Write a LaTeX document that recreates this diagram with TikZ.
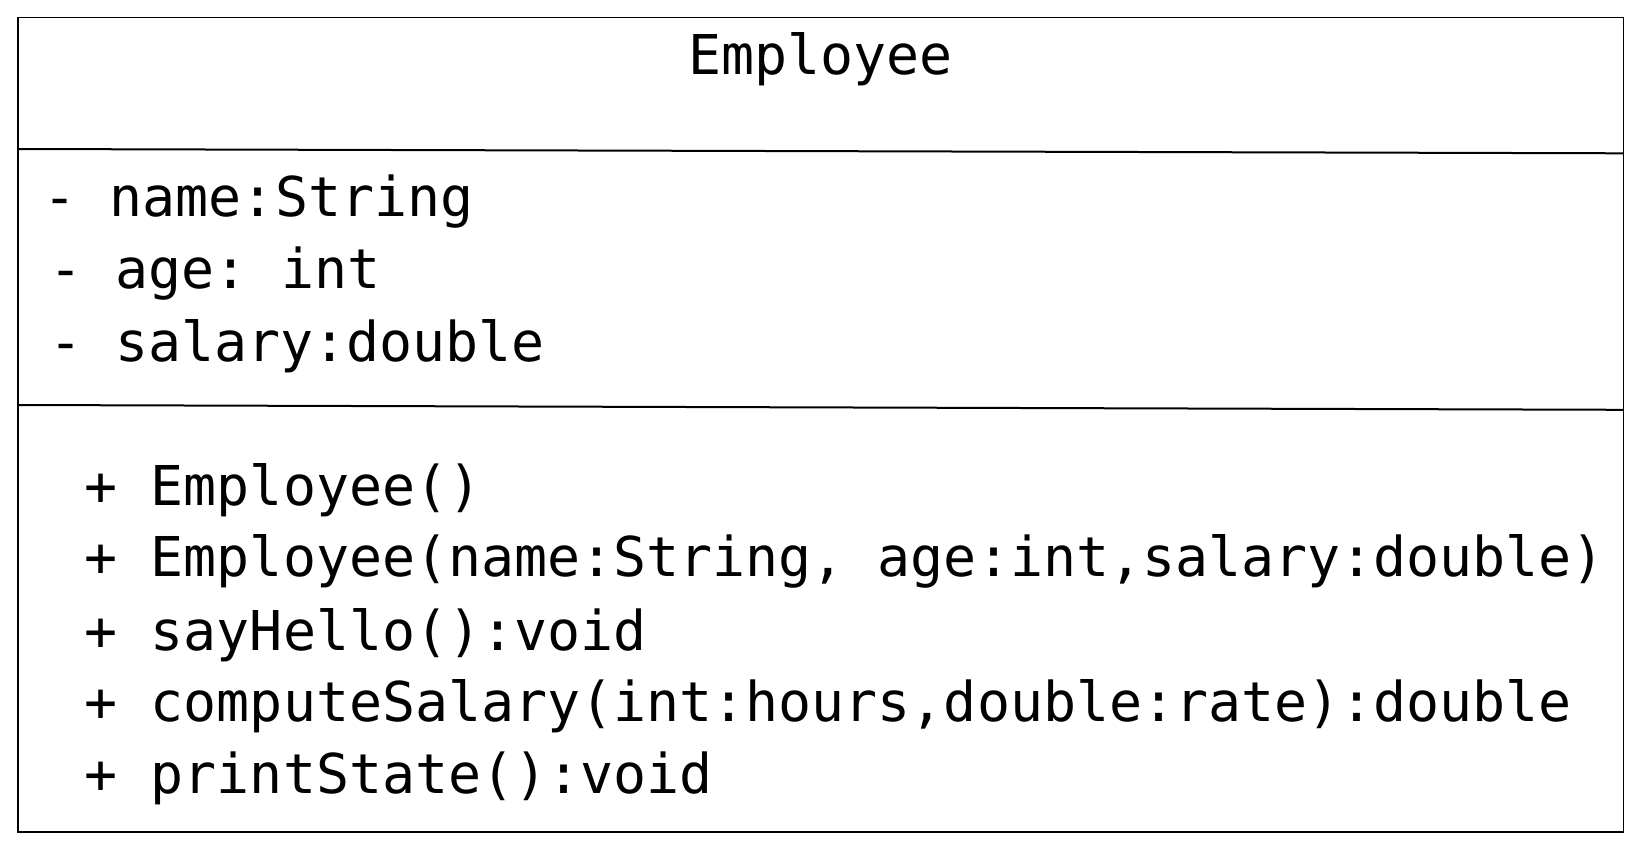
\documentclass[tikz,border=0pt]{standalone}
\usepackage{fontspec}
\newfontfamily\umlfont{DejaVu Sans Mono}
\begin{document}
\begin{tikzpicture}[x=1pt,y=-1pt,
  txt/.style={anchor=base west,inner sep=0pt,font=\umlfont\fontsize{54.9pt}{60pt}\selectfont\frenchspacing},
  frame/.style={draw=black,line width=1.6pt},
  divider/.style={draw=black,line width=2pt}]
\useasboundingbox (0,0) rectangle (1635,853);
\coordinate (tl) at (17.7,17.7);
\coordinate (br) at (1623.5,832);
\coordinate (d1l) at (17.7,149);
\coordinate (d1r) at (1623.5,153.3);
\coordinate (d2l) at (17.7,405);
\coordinate (d2r) at (1623.5,409.8);
\draw[frame] (tl) rectangle (br);
\draw[divider] (d1l) -- (d1r);
\draw[divider] (d2l) -- (d2r);
\node[txt,anchor=base] (title) at (820.6,75) {Employee};
\node[txt] (a1) at (43.5,216.7) {- name:String};
\node[txt] (a2) at (49.5,288) {- age: int};
\node[txt] (a3) at (49,361.7) {- salary:double};
\node[txt] (m1) at (84.5,505) {+ Employee()};
\node[txt] (m2) at (84.5,576.7) {+ Employee(name:String, age:int,salary:double)};
\node[txt] (m3) at (84.5,650) {+ sayHello():void};
\node[txt] (m4) at (84.5,721.7) {+ computeSalary(int:hours,double:rate):double};
\node[txt] (m5) at (84.5,793) {+ printState():void};
\end{tikzpicture}
\end{document}
